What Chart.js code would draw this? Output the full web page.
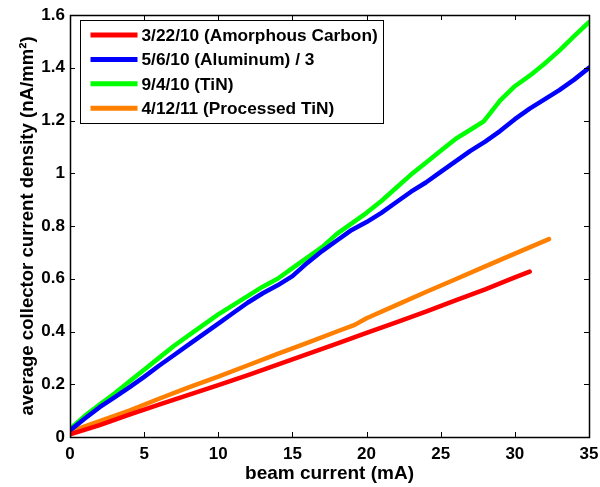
<!DOCTYPE html>
<html>
<head>
<meta charset="utf-8">
<script src="https://cdn.jsdelivr.net/npm/chart.js@4.4.1/dist/chart.umd.min.js"></script>
<style>
  html, body { margin: 0; padding: 0; background: #fff; }
  #chart { display: block; }
</style>
</head>
<body>
<canvas id="chart" width="600" height="487"></canvas>
<script>
// beam current (mA) and average collector current density (nA/mm^2)
const carbonX = [0, 2, 4, 6, 8, 10, 12, 14, 16, 18, 20, 22, 24, 26, 28, 30, 31];
const carbonY = [0.01, 0.045, 0.085, 0.123, 0.16, 0.197, 0.235, 0.274, 0.314, 0.354, 0.395, 0.435, 0.475, 0.518, 0.56, 0.605, 0.627];

const aluminumX = [0, 1, 2, 3, 4, 5, 6, 7, 8, 9, 10, 11, 12, 13, 14, 15, 16, 17, 18, 19, 20, 21, 22, 23, 24, 25, 26, 27, 28, 29, 30, 31, 32, 33, 34, 35];
const aluminumY = [0.025, 0.07, 0.113, 0.15, 0.188, 0.228, 0.27, 0.31, 0.35, 0.39, 0.43, 0.47, 0.51, 0.545, 0.575, 0.61, 0.66, 0.705, 0.745, 0.785, 0.815, 0.85, 0.89, 0.93, 0.965, 1.005, 1.045, 1.085, 1.12, 1.16, 1.205, 1.245, 1.28, 1.315, 1.355, 1.40];

const tinX = [0, 1, 2, 3, 4, 5, 6, 7, 8, 9, 10, 11, 12, 13, 14, 15, 16, 17, 18, 19, 20, 21, 22, 23, 24, 25, 26, 27, 27.9, 29, 30, 31, 32, 33, 34, 35];
const tinY = [0.03, 0.08, 0.123, 0.165, 0.21, 0.255, 0.30, 0.345, 0.385, 0.425, 0.465, 0.50, 0.535, 0.57, 0.60, 0.64, 0.68, 0.72, 0.77, 0.81, 0.85, 0.895, 0.945, 0.995, 1.04, 1.085, 1.13, 1.165, 1.197, 1.275, 1.33, 1.37, 1.415, 1.465, 1.52, 1.573];

const processedX = [0, 2, 4, 6, 8, 10, 12, 14, 16, 18, 19.2, 20, 22, 24, 26, 28, 30, 32.3];
const processedY = [0.02, 0.06, 0.1, 0.145, 0.188, 0.229, 0.272, 0.315, 0.357, 0.40, 0.425, 0.45, 0.50, 0.55, 0.598, 0.647, 0.695, 0.75];

const seriesLabels = ['3/22/10 (Amorphous Carbon)', '5/6/10 (Aluminum) / 3', '9/4/10 (TiN)', '4/12/11 (Processed TiN)'];
const seriesColors = ['#ff0000', '#0000ff', '#00ff00', '#ff8000'];

const xTickLabels = ['0', '5', '10', '15', '20', '25', '30', '35'];
const yTickLabels = ['0', '0.2', '0.4', '0.6', '0.8', '1', '1.2', '1.4', '1.6'];

const FONT = '"Liberation Sans", Arial, Helvetica, sans-serif';

function toPoints(xs, ys) {
    return xs.map((x, i) => ({ x: x, y: ys[i] }));
}

const allSeries = [
    toPoints(carbonX, carbonY),
    toPoints(aluminumX, aluminumY),
    toPoints(tinX, tinY),
    toPoints(processedX, processedY)
];

// inward ticks on all four sides, box, and the boxed legend in the corner
const matlabAxes = {
    id: 'matlabAxes',
    afterDatasetsDraw(chart) {
        const { ctx, chartArea: a, scales: { x, y } } = chart;
        ctx.save();
        ctx.strokeStyle = '#000';
        ctx.lineWidth = 1;
        ctx.beginPath();
        x.ticks.forEach(t => {
            const px = Math.round(x.getPixelForValue(t.value)) + 0.5;
            ctx.moveTo(px, a.bottom);
            ctx.lineTo(px, a.bottom - 5);
            ctx.moveTo(px, a.top);
            ctx.lineTo(px, a.top + 5);
        });
        y.ticks.forEach(t => {
            const py = Math.round(y.getPixelForValue(t.value)) + 0.5;
            ctx.moveTo(a.left, py);
            ctx.lineTo(a.left + 5, py);
            ctx.moveTo(a.right, py);
            ctx.lineTo(a.right - 5, py);
        });
        ctx.stroke();
        ctx.lineWidth = 1.5;
        ctx.strokeRect(Math.round(a.left) + 0.5, Math.round(a.top) + 0.5,
            Math.round(a.width), Math.round(a.height));

        // legend
        const lx = a.left + 10.5, ly = a.top + 5.5, lw = 303, lh = 103;
        ctx.fillStyle = '#fff';
        ctx.fillRect(lx, ly, lw, lh);
        ctx.lineWidth = 1;
        ctx.strokeRect(lx, ly, lw, lh);
        ctx.font = 'bold 17.3px ' + FONT;
        ctx.textBaseline = 'middle';
        ctx.textAlign = 'left';
        chart.data.datasets.forEach((ds, i) => {
            const rowY = ly + 14.5 + i * 24.4;
            ctx.strokeStyle = ds.borderColor;
            ctx.lineWidth = 5;
            ctx.beginPath();
            ctx.moveTo(lx + 10, rowY);
            ctx.lineTo(lx + 57, rowY);
            ctx.stroke();
            ctx.fillStyle = '#000';
            ctx.fillText(ds.label, lx + 61, rowY + 1);
        });
        ctx.restore();
    }
};

const ctx = document.getElementById('chart').getContext('2d');
new Chart(ctx, {
    type: 'line',
    data: {
        datasets: allSeries.map((pts, i) => ({
            label: seriesLabels[i],
            data: pts,
            borderColor: seriesColors[i],
            backgroundColor: seriesColors[i],
            borderWidth: 4.5,
            borderCapStyle: 'round',
            borderJoinStyle: 'round',
            pointRadius: 0,
            tension: 0,
            fill: false
        }))
    },
    options: {
        responsive: false,
        devicePixelRatio: 1,
        animation: false,
        layout: { padding: { top: 15, right: 11, left: 0, bottom: 0 } },
        plugins: {
            legend: { display: false },
            tooltip: { enabled: false }
        },
        scales: {
            x: {
                type: 'linear',
                min: 0,
                max: 35,
                afterFit: scale => {
                    scale.height = 50;
                    scale.paddingLeft = 0;
                    scale.paddingRight = 0;
                },
                ticks: {
                    stepSize: 5,
                    padding: 7,
                    color: '#000',
                    maxRotation: 0,
                    font: { family: FONT, size: 17, weight: 'bold' },
                    callback: (v, i) => xTickLabels[i]
                },
                grid: { display: false, drawTicks: false },
                border: { display: false },
                title: {
                    display: true,
                    text: 'beam current (mA)',
                    color: '#000',
                    padding: { top: 0, bottom: 2 },
                    font: { family: FONT, size: 19, weight: 'bold' }
                }
            },
            y: {
                type: 'linear',
                min: 0,
                max: 1.6,
                afterFit: scale => {
                    scale.width = 70;
                    scale.paddingTop = 0;
                    scale.paddingBottom = 0;
                },
                ticks: {
                    stepSize: 0.2,
                    padding: 5,
                    color: '#000',
                    font: { family: FONT, size: 17, weight: 'bold' },
                    callback: (v, i) => yTickLabels[i]
                },
                grid: { display: false, drawTicks: false },
                border: { display: false },
                title: {
                    display: true,
                    text: 'average collector current density (nA/mm²)',
                    color: '#000',
                    padding: { top: 17, bottom: 0 },
                    font: { family: FONT, size: 18.6, weight: 'bold' }
                }
            }
        }
    },
    plugins: [matlabAxes]
});
</script>
</body>
</html>
